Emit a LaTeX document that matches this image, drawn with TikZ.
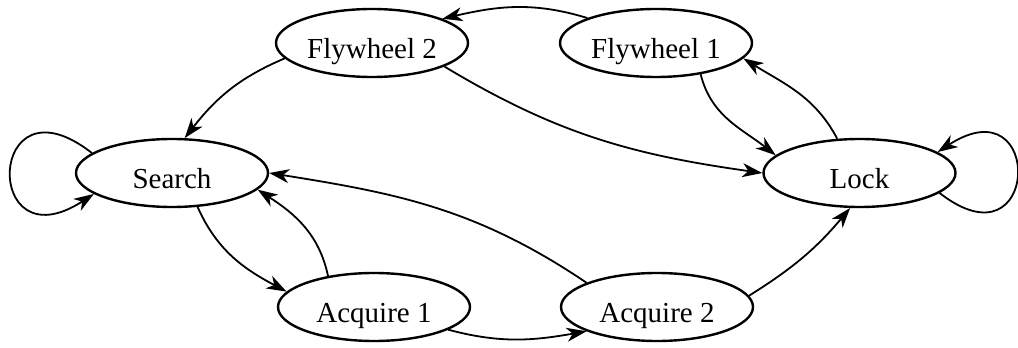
\documentclass[tikz,border=0pt]{standalone}
\usepackage{fontspec}
\setmainfont{Liberation Serif}
\usetikzlibrary{shapes.geometric,arrows.meta}
\begin{document}
\begin{tikzpicture}[x=1pt,y=1pt,
  state/.style={ellipse,draw,line width=2.4pt,minimum width=192pt,minimum height=68pt,
    inner sep=0pt,font=\fontsize{29}{34}\selectfont,text height=32pt,text depth=0pt},
  edge/.style={line width=1.8pt,-{Stealth[length=20pt,width=14pt,inset=6pt]}}]
\useasboundingbox (0,0) rectangle (1018,348);
\node[state] (search) at (172,175) {Search};
\node[state] (lock)   at (859.5,175) {Lock};
\node[state] (fw2)    at (372,305) {Flywheel 2};
\node[state] (fw1)    at (656,305) {Flywheel 1};
\node[state] (acq1)   at (374,41) {Acquire 1};
\node[state] (acq2)   at (657,41) {Acquire 2};
\draw[edge] (fw1.160) to[out=163,in=13] (fw2.19);
\draw[edge] (fw2.190) to[out=203,in=52] (search.70);
\draw[edge] (fw2.-18) to[out=-31,in=172] (lock.180);
\draw[edge] (fw1.-35) to[out=-76,in=142] (lock.168);
\draw[edge] (lock.123) to[out=118,in=-32] (fw1.-10);
\draw[edge] (lock.-14) .. controls +(-38:128pt) and +(33:128pt) .. (lock.15);
\draw[edge] (search.166) .. controls +(142:134pt) and +(213:134pt) .. (search.195);
\draw[edge] (search.-53) to[out=-66,in=152] (acq1.170);
\draw[edge] (acq1.146) to[out=102,in=-33] (search.-11);
\draw[edge] (acq2.161) to[out=146,in=-9] (search.0);
\draw[edge] (acq1.-17) to[out=-15,in=190] (acq2.199);
\draw[edge] (acq2.7) to[out=32,in=230] (lock.-105);
\end{tikzpicture}
\end{document}
